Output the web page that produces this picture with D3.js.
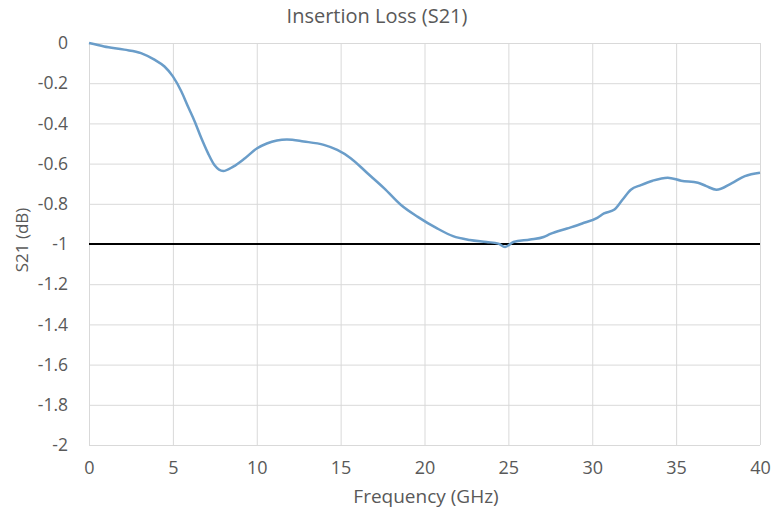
<!DOCTYPE html>
<html>
<head>
<meta charset="utf-8">
<script src="https://cdn.jsdelivr.net/npm/d3@7"></script>
<style>
  body { margin: 0; background: #fff; }
  text { font-family: "Open Sans", sans-serif; fill: #595959; }
</style>
</head>
<body>
<svg id="chart" width="781" height="513"></svg>
<script>
// valores
const freq = [0, 0.9, 2.1, 3.1, 3.9, 4.5, 5.0, 5.5, 5.9, 6.3, 6.7, 7.1, 7.5, 8.0, 8.6, 9.3, 10.0, 10.6, 11.8, 12.8, 14.0, 14.8, 15.6, 16.6, 17.6, 18.6, 19.6, 20.7, 21.7, 22.7, 23.7, 24.4, 24.8, 25.3, 26.3, 27.1, 27.5, 28.5, 29.4, 30.3, 30.7, 31.3, 31.8, 32.3, 32.9, 33.6, 34.5, 35.3, 36.3, 36.8, 37.4, 38.3, 39.1, 40];
const s21 = [0, -0.017, -0.033, -0.05, -0.083, -0.117, -0.166, -0.24, -0.316, -0.39, -0.474, -0.549, -0.61, -0.637, -0.615, -0.573, -0.525, -0.50, -0.48, -0.49, -0.507, -0.532, -0.573, -0.648, -0.723, -0.806, -0.865, -0.92, -0.961, -0.98, -0.99, -0.998, -1.015, -0.99, -0.978, -0.965, -0.95, -0.923, -0.898, -0.87, -0.848, -0.83, -0.78, -0.73, -0.707, -0.685, -0.67, -0.685, -0.695, -0.712, -0.73, -0.698, -0.662, -0.645];
const xTicks = [0, 5, 10, 15, 20, 25, 30, 35, 40];
const yTicks = [0, -0.2, -0.4, -0.6, -0.8, -1, -1.2, -1.4, -1.6, -1.8, -2];
const limit = -1;

const svg = d3.select("#chart");
const mLeft = 89, mRight = 760, mTop = 43, mBottom = 445;

const x = d3.scaleLinear().domain([0, 40]).range([mLeft, mRight]);
const y = d3.scaleLinear().domain([-2, 0]).range([mBottom, mTop]);

// rejilla
svg.append("g")
    .attr("transform", `translate(0,${mBottom})`)
    .call(d3.axisBottom(x).tickValues(xTicks).tickSize(-(mBottom - mTop)).tickFormat(""))
    .call(g => g.select(".domain").remove())
    .call(g => g.selectAll("line").attr("stroke", "#d9d9d9"));

svg.append("g")
    .attr("transform", `translate(${mLeft},0)`)
    .call(d3.axisLeft(y).tickValues(yTicks).tickSize(-(mRight - mLeft)).tickFormat(""))
    .call(g => g.select(".domain").remove())
    .call(g => g.selectAll("line").attr("stroke", "#d9d9d9"));

// etiquetas
svg.append("g")
    .attr("transform", `translate(0,${mBottom})`)
    .call(d3.axisBottom(x).tickValues(xTicks).tickSize(0).tickPadding(16).tickFormat(d3.format("d")))
    .call(g => g.select(".domain").remove())
    .call(g => g.selectAll("text").attr("font-size", 18).attr("font-family", "Open Sans").attr("fill", "#595959"));

svg.append("g")
    .attr("transform", `translate(${mLeft},0)`)
    .call(d3.axisLeft(y).tickValues(yTicks).tickSize(0).tickPadding(21).tickFormat(d => String(+d.toFixed(1))))
    .call(g => g.select(".domain").remove())
    .call(g => g.selectAll("text").attr("font-size", 17.5).attr("font-family", "Open Sans").attr("fill", "#595959"));

// linea de -1 dB
svg.append("line")
    .attr("x1", x(0)).attr("x2", x(40))
    .attr("y1", y(limit)).attr("y2", y(limit))
    .attr("stroke", "#000").attr("stroke-width", 2);

const line = d3.line()
    .x((d, i) => x(freq[i]))
    .y(d => y(d))
    .curve(d3.curveMonotoneX);

svg.append("path")
    .datum(s21)
    .attr("d", line)
    .attr("fill", "none")
    .attr("stroke", "#6a9dc9")
    .attr("stroke-width", 2.5)
    .attr("stroke-linejoin", "round");

svg.append("text")
    .attr("x", 377).attr("y", 23)
    .attr("text-anchor", "middle")
    .attr("font-size", 20)
    .text("Insertion Loss (S21)");

svg.append("text")
    .attr("x", 426).attr("y", 503)
    .attr("text-anchor", "middle")
    .attr("font-size", 19)
    .text("Frequency (GHz)");

svg.append("text")
    .attr("transform", "translate(28,240) rotate(-90)")
    .attr("text-anchor", "middle")
    .attr("font-size", 17)
    .text("S21 (dB)");
</script>
</body>
</html>
